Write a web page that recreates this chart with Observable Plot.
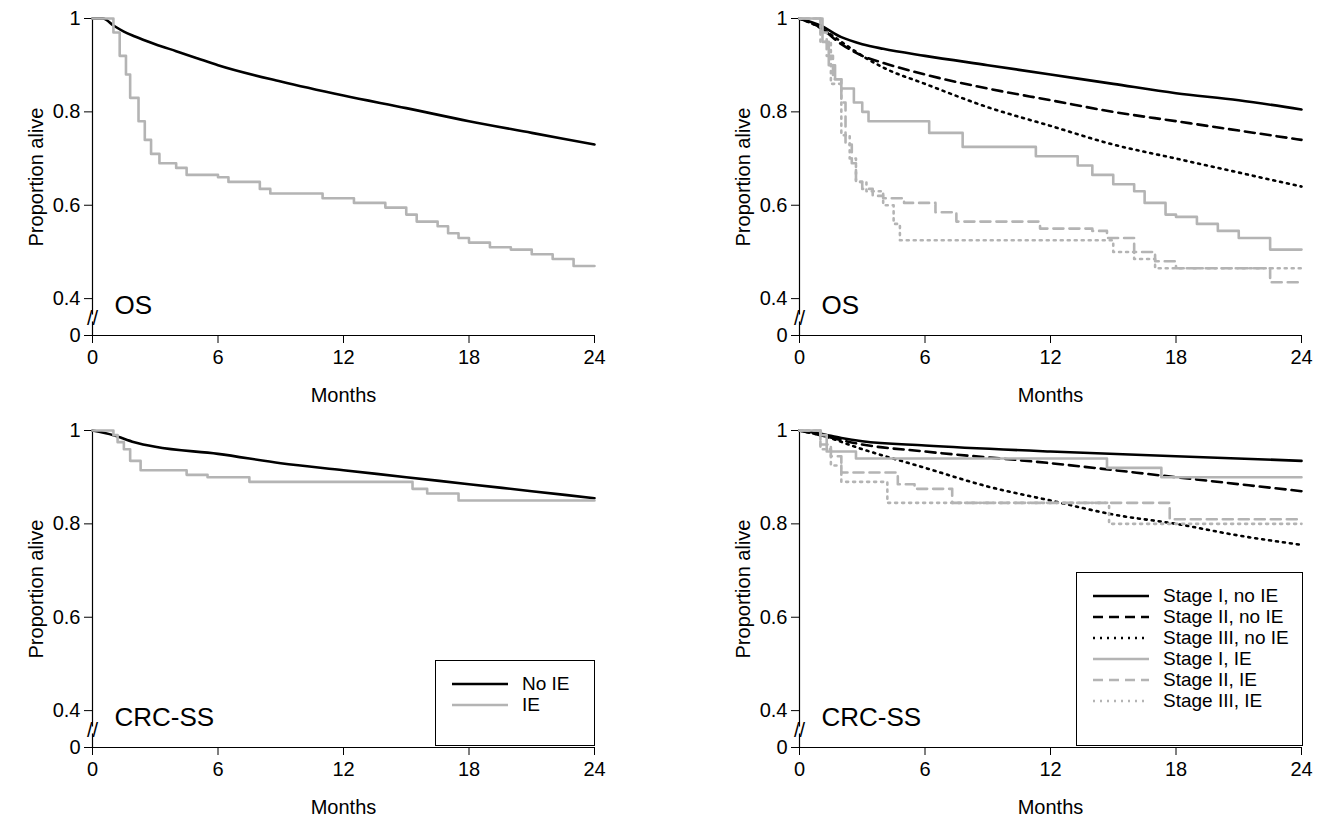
<!DOCTYPE html>
<html><head><meta charset="utf-8">
<script src="https://cdn.jsdelivr.net/npm/d3@7"></script>
<script src="https://cdn.jsdelivr.net/npm/@observablehq/plot@0.6"></script>
<style>
body{margin:0;background:#fff;font-family:"Liberation Sans",Arial,sans-serif}
#wrap{position:relative;width:1332px;height:827px}
.panel{position:absolute}
.legend{position:absolute;border:1px solid #000;background:#fff;font-size:19px}
.legend div{display:flex;align-items:center;height:21px}
.legend svg{margin-right:14px}
</style></head><body>
<div id="wrap"></div>
<script>
// y position used for the "0" tick below the axis break
const ZERO = 0.321;
const xTicks = [0, 6, 12, 18, 24];
const yTicks = [ZERO, 0.4, 0.6, 0.8, 1];

// OS, all patients
const osNoIE = [[0,1],[0.5,1],[1,0.985],[1.5,0.972],[2,0.962],[3,0.945],[4,0.93],[5,0.915],[6,0.9],[9,0.865],[12,0.835],[15,0.808],[18,0.78],[21,0.755],[24,0.73]];
const osIE = [[0,1],[0.8,1],[1,0.97],[1.3,0.92],[1.6,0.88],[1.8,0.83],[2.2,0.78],[2.5,0.74],[2.8,0.71],[3.2,0.69],[4,0.68],[4.5,0.665],[6,0.66],[6.5,0.65],[8,0.635],[8.5,0.625],[10.5,0.625],[11,0.615],[12.5,0.605],[14,0.595],[15,0.58],[15.5,0.565],[16.5,0.555],[17,0.54],[17.5,0.53],[18,0.52],[19,0.51],[20,0.505],[21,0.495],[22,0.485],[23,0.47],[24,0.47]];
// OS by stage
const osS1 = [[0,1],[1,0.985],[2,0.96],[3,0.945],[4,0.935],[6,0.92],[9,0.9],[12,0.88],[15,0.86],[18,0.84],[21,0.825],[24,0.805]];
const osS2 = [[0,1],[1,0.98],[2,0.945],[3,0.92],[4,0.905],[6,0.88],[9,0.85],[12,0.825],[15,0.8],[18,0.78],[21,0.76],[24,0.74]];
const osS3 = [[0,1],[1,0.98],[2,0.95],[3,0.92],[4,0.895],[6,0.86],[9,0.81],[12,0.77],[15,0.73],[18,0.7],[21,0.67],[24,0.64]];
const osS1IE = [[0,1],[0.9,1],[1.1,0.95],[1.4,0.9],[1.7,0.87],[2,0.85],[2.6,0.82],[3,0.8],[3.3,0.78],[6,0.78],[6.2,0.755],[7.5,0.755],[7.8,0.725],[11,0.725],[11.3,0.705],[13,0.705],[13.3,0.685],[14,0.665],[15,0.645],[16,0.63],[16.5,0.605],[17.5,0.58],[18,0.575],[19,0.56],[20,0.545],[21,0.53],[22.5,0.505],[24,0.505]];
const osS2IE = [[0,1],[1,0.97],[1.3,0.92],[1.6,0.87],[2,0.82],[2.2,0.73],[2.5,0.69],[2.7,0.65],[3,0.635],[3.5,0.62],[4,0.615],[5,0.605],[6,0.605],[6.5,0.585],[7.5,0.565],[11,0.565],[11.5,0.55],[14,0.545],[14.7,0.53],[16,0.5],[17,0.48],[18,0.465],[22,0.465],[22.5,0.435],[24,0.435]];
const osS3IE = [[0,1],[1,0.95],[1.5,0.86],[2,0.75],[2.4,0.7],[2.7,0.65],[3.2,0.63],[4,0.6],[4.5,0.56],[4.8,0.525],[14.5,0.525],[15,0.5],[16,0.485],[17,0.465],[24,0.465]];
// CRC-SS, all patients
const ssNoIE = [[0,1],[1,0.99],[2,0.975],[3,0.965],[6,0.95],[9,0.93],[12,0.915],[15,0.9],[18,0.885],[21,0.87],[24,0.855]];
const ssIE = [[0,1],[1,0.99],[1.2,0.975],[1.5,0.96],[1.8,0.935],[2.3,0.915],[4,0.915],[4.5,0.905],[5.5,0.9],[7.5,0.89],[15,0.89],[15.3,0.875],[16,0.865],[17.5,0.85],[24,0.85]];
// CRC-SS by stage
const ssS1 = [[0,1],[1,0.993],[2,0.984],[3,0.977],[6,0.968],[12,0.955],[18,0.945],[24,0.935]];
const ssS2 = [[0,1],[1,0.99],[3,0.97],[6,0.955],[12,0.93],[18,0.9],[24,0.87]];
const ssS3 = [[0,1],[1,0.99],[3,0.96],[6,0.92],[9,0.88],[12,0.85],[15,0.82],[18,0.8],[21,0.775],[24,0.755]];
const ssS1IE = [[0,1],[1,0.99],[1.3,0.955],[2.5,0.955],[2.7,0.94],[14.5,0.94],[14.7,0.92],[17,0.92],[17.3,0.9],[24,0.9]];
const ssS2IE = [[0,1],[1,0.97],[1.5,0.945],[2,0.91],[4.5,0.91],[4.7,0.885],[5.5,0.875],[7,0.875],[7.3,0.845],[17.6,0.845],[17.7,0.81],[24,0.81]];
const ssS3IE = [[0,1],[1,0.96],[1.5,0.925],[2,0.89],[4,0.89],[4.2,0.845],[14.5,0.845],[14.8,0.8],[24,0.8]];

const BLACK = "#000", GRAY = "#b4b4b4";
const styles = {solid: null, dashed: "10,6", dotted: "2,5"};
const fmtY = d => d === ZERO ? "0" : d3.format("~g")(d);

function kmLine(data, color, dash, smooth) {
  return Plot.line(data, {x: d => d[0], y: d => d[1], stroke: color, strokeWidth: 2.6,
    strokeDasharray: styles[dash], curve: smooth ? "monotone-x" : "step-after"});
}

function panel(left, top, label, series) {
  const chart = Plot.plot({
    width: 625, height: 410,
    marginLeft: 92, marginRight: 31, marginTop: 18, marginBottom: 75,
    style: {fontFamily: "Liberation Sans, Arial, sans-serif", fontSize: "20px", color: "#000", background: "transparent"},
    x: {domain: [0, 24]},
    y: {domain: [ZERO, 1]},
    marks: [
      Plot.axisX({ticks: xTicks, tickSize: 8, tickPadding: 6, fontSize: 20, label: "Months", labelAnchor: "center", labelArrow: "none", labelOffset: 66}),
      Plot.axisY({ticks: yTicks, tickSize: 8, tickPadding: 4, fontSize: 20, tickFormat: fmtY, label: "Proportion alive", labelAnchor: "center", labelArrow: "none", labelOffset: 64}),
      Plot.ruleY([ZERO], {x1: 0, x2: 24, strokeWidth: 1.2}),
      Plot.ruleX([0], {y1: 1, y2: 0.365, strokeWidth: 1.2}),
      Plot.ruleX([0], {y1: 0.35, y2: ZERO, strokeWidth: 1.2}),
      Plot.text(["//"], {x: 0, y: 0.358, fontSize: 20, textAnchor: "middle"}),
      ...series.map(s => kmLine(s[0], s[1], s[2], s[3])),
      Plot.text([label], {frameAnchor: "bottom-left", dx: 22, dy: -22, fontSize: 26})
    ]
  });
  chart.classList.add("panel");
  chart.style.left = left + "px";
  chart.style.top = top + "px";
  document.getElementById("wrap").append(chart);
}

panel(0, 0, "OS", [[osNoIE, BLACK, "solid", true], [osIE, GRAY, "solid", false]]);
panel(707, 0, "OS", [[osS1, BLACK, "solid", true], [osS2, BLACK, "dashed", true], [osS3, BLACK, "dotted", true],
  [osS1IE, GRAY, "solid", false], [osS2IE, GRAY, "dashed", false], [osS3IE, GRAY, "dotted", false]]);
panel(0, 412, "CRC-SS", [[ssNoIE, BLACK, "solid", true], [ssIE, GRAY, "solid", false]]);
panel(707, 412, "CRC-SS", [[ssS1, BLACK, "solid", true], [ssS2, BLACK, "dashed", true], [ssS3, BLACK, "dotted", true],
  [ssS1IE, GRAY, "solid", false], [ssS2IE, GRAY, "dashed", false], [ssS3IE, GRAY, "dotted", false]]);

function legend(left, top, w, h, items) {
  const box = document.createElement("div");
  box.className = "legend";
  Object.assign(box.style, {left: left + "px", top: top + "px", width: w + "px", height: h + "px",
    padding: "12px 0 0 16px", boxSizing: "border-box"});
  for (const [name, color, dash] of items) {
    const row = document.createElement("div");
    row.innerHTML = `<svg width="56" height="10"><line x1="0" y1="5" x2="56" y2="5" stroke="${color}" stroke-width="2.6" ${styles[dash] ? `stroke-dasharray="${styles[dash]}"` : ""}/></svg><span>${name}</span>`;
    box.append(row);
  }
  document.getElementById("wrap").append(box);
}
legend(435, 660, 160, 86, [["No IE", BLACK, "solid"], ["IE", GRAY, "solid"]]);
legend(1076, 572, 227, 174, [["Stage I, no IE", BLACK, "solid"], ["Stage II, no IE", BLACK, "dashed"], ["Stage III, no IE", BLACK, "dotted"],
  ["Stage I, IE", GRAY, "solid"], ["Stage II, IE", GRAY, "dashed"], ["Stage III, IE", GRAY, "dotted"]]);
</script>
</body></html>
